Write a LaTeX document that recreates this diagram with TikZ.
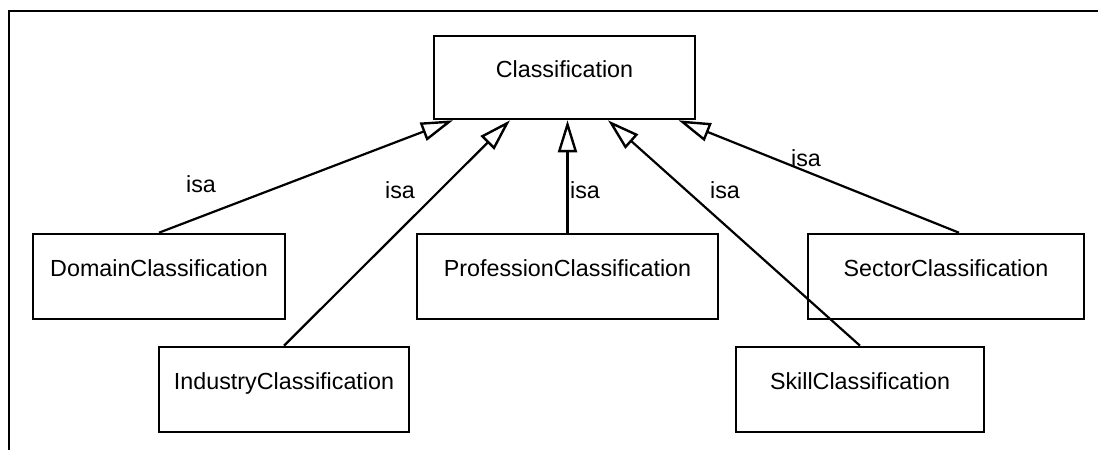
\documentclass[tikz,border=0pt]{standalone}
\usepackage{fontspec}
\setmainfont{Liberation Sans}
\usetikzlibrary{arrows.meta}
\begin{document}
\begin{tikzpicture}[x=1pt, y=-1pt,
  every node/.style={font=\fontsize{23.3}{28}\selectfont},
  cls/.style={draw, line width=2.6pt, inner sep=0pt, text height=17pt, text depth=17pt},
  isa/.style={line width=2.2pt, -{Triangle[open, length=32pt, width=19pt, line width=2.4pt]}},
  lbl/.style={inner sep=1pt}]
  \useasboundingbox (0,0) rectangle (1098,450);
  % outer frame (top and left edges)
  \draw[line width=2.2pt] (9,450) -- (9,11) -- (1098,11);

  % classes
  \node[cls, minimum width=261pt, minimum height=83pt] (cls)  at (564.5,77.5) {Classification};
  \node[cls, minimum width=252pt, minimum height=85pt] (dom)  at (159,276.5)  {DomainClassification};
  \node[cls, minimum width=301pt, minimum height=85pt] (prof) at (567.5,276.5) {ProfessionClassification};
  \node[cls, minimum width=276pt, minimum height=85pt] (sec)  at (946,276.5)  {SectorClassification};
  \node[cls, minimum width=250pt, minimum height=85pt] (ind)  at (284,389.5)  {IndustryClassification};
  \node[cls, minimum width=248pt, minimum height=85pt] (skl)  at (860,389.5)  {SkillClassification};

  % generalisation arrows
  \draw[isa] (dom.north) -- ([xshift=-111.5pt]cls.south);
  \draw[isa] (ind.north) -- ([xshift=-54.5pt]cls.south);
  \draw[isa] (prof.north) -- (prof.north |- cls.south);
  \draw[isa] (skl.north) -- ([xshift=43.5pt]cls.south);
  \draw[isa] ([xshift=13pt]sec.north) -- ([xshift=114pt]cls.south);

  % labels
  \node[lbl] (l1) at (201,184) {isa};
  \node[lbl] (l2) at (400,190) {isa};
  \node[lbl] (l3) at (585,190) {isa};
  \node[lbl] (l4) at (725,190) {isa};
  \node[lbl] (l5) at (806,158) {isa};
\end{tikzpicture}
\end{document}
